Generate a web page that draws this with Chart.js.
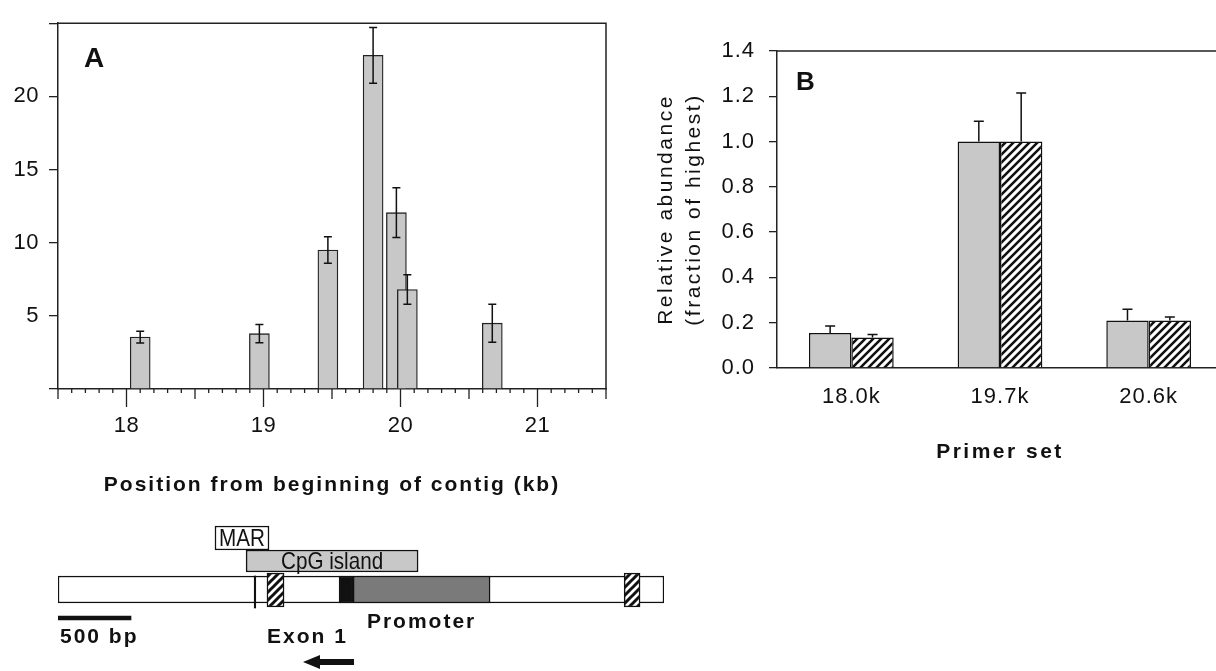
<!DOCTYPE html>
<html>
<head>
<meta charset="utf-8">
<script src="https://cdn.jsdelivr.net/npm/chart.js@4.4.0/dist/chart.umd.min.js"></script>
<style>
  html, body { margin: 0; padding: 0; background: #fff; width: 1216px; height: 671px; overflow: hidden; }
  canvas { position: absolute; }
  #chartA { left: 0; top: 0; }
  #chartB { left: 620px; top: 0; }
  #chartC { left: 0; top: 500px; }
</style>
</head>
<body>
<canvas id="chartA" width="620" height="500"></canvas>
<canvas id="chartB" width="620" height="480"></canvas>
<canvas id="chartC" width="700" height="171"></canvas>
<script>
// panel A - enrichment along the contig (kb)
var posA = [18.1, 18.97, 19.47, 19.8, 19.97, 20.05, 20.67];
var valA = [3.55, 3.78, 9.5, 22.8, 12.05, 6.8, 4.5];
var errA = [0.4, 0.62, 0.9, 1.9, 1.7, 1.0, 1.3];
var xTicksA = [18, 19, 20, 21];
var yTicksA = [0, 5, 10, 15, 20, 25];

// panel B - primer sets
var primers = ['18.0k', '19.7k', '20.6k'];
var grayB = [0.155, 1.0, 0.21];
var grayErrB = [0.03, 0.09, 0.05];
var hatchB = [0.135, 1.0, 0.21];
var hatchErrB = [0.013, 0.215, 0.015];
var yTicksB = [0, 0.2, 0.4, 0.6, 0.8, 1.0, 1.2, 1.4];

// gene map, bp from left end of the drawn region
var geneSpan = [0, 4150];
var exonSpans = [[1431, 1548], [3877, 3986]];
var marSpan = [1075, 1445];
var cpgSpan = [1288, 2466];
var promoterSpan = [2021, 2959];
var boxSpan = [1925, 2021];
var markSpan = [1344, 1354];
var scaleSpan = [0, 500];
var arrowSpan = [2027, 1678];

var FONT = '"Liberation Sans", Arial, sans-serif';
var INK = '#111';
var GRAY = '#c8c8c8';

function hatch(size, lw) {
  var c = document.createElement('canvas');
  c.width = c.height = size;
  var g = c.getContext('2d');
  g.fillStyle = '#fff';
  g.fillRect(0, 0, size, size);
  g.strokeStyle = '#111';
  g.lineWidth = lw;
  g.beginPath();
  g.moveTo(-1, size + 1); g.lineTo(size + 1, -1);
  g.moveTo(-2, 2); g.lineTo(2, -2);
  g.moveTo(size - 2, size + 2); g.lineTo(size + 2, size - 2);
  g.stroke();
  return g.createPattern(c, 'repeat');
}

// letter spacing: titles are drawn before datasets, tick labels (z:1) after
var spacing = {
  id: 'spacing',
  beforeDraw: function (chart, args, o) { chart.ctx.letterSpacing = o.titles || '0px'; },
  beforeDatasetsDraw: function (chart, args, o) { chart.ctx.letterSpacing = o.ticks || '0px'; }
};

var errorBars = {
  id: 'errorBars',
  afterDatasetsDraw: function (chart) {
    var ctx = chart.ctx, ys = chart.scales.y;
    chart.data.datasets.forEach(function (ds, di) {
      if (!ds.err) return;
      var meta = chart.getDatasetMeta(di);
      ctx.save();
      ctx.strokeStyle = '#111';
      ctx.lineWidth = 1.5;
      meta.data.forEach(function (bar, i) {
        var v = ds.data[i];
        if (typeof v === 'object') v = v.y;
        var hi = ys.getPixelForValue(v + ds.err[i]);
        var lo = ys.getPixelForValue(ds.errDown ? v - ds.err[i] : v);
        var w = ds.capWidth / 2;
        ctx.beginPath();
        ctx.moveTo(bar.x, lo); ctx.lineTo(bar.x, hi);
        ctx.moveTo(bar.x - w, hi); ctx.lineTo(bar.x + w, hi);
        if (ds.errDown) { ctx.moveTo(bar.x - w, lo); ctx.lineTo(bar.x + w, lo); }
        ctx.stroke();
      });
      ctx.restore();
    });
  }
};

// top/right frame and panel letter
var frame = {
  id: 'frame',
  afterDraw: function (chart, args, o) {
    var a = chart.chartArea, ctx = chart.ctx;
    ctx.save();
    ctx.strokeStyle = '#222';
    ctx.lineWidth = 1.5;
    ctx.beginPath();
    ctx.moveTo(a.left, a.top);
    ctx.lineTo(a.right, a.top);
    ctx.lineTo(a.right, a.bottom);
    ctx.stroke();
    ctx.letterSpacing = '0px';
    ctx.fillStyle = '#111';
    ctx.font = 'bold ' + o.size + 'px ' + FONT;
    ctx.fillText(o.letter, a.left + o.dx, a.top + o.dy);
    ctx.restore();
  }
};

// kb axis ticks: minor 0.1, medium at .5, long at whole kb
var kbTicks = {
  id: 'kbTicks',
  afterDraw: function (chart) {
    var xs = chart.scales.x, a = chart.chartArea, ctx = chart.ctx;
    ctx.save();
    ctx.strokeStyle = '#222';
    ctx.lineWidth = 1.3;
    ctx.beginPath();
    var n = Math.round((xs.max - xs.min) * 10);
    for (var k = 0; k <= n; k++) {
      var px = xs.getPixelForValue(xs.min + k / 10);
      var len = k % 10 === 5 ? 18 : (k % 5 === 0 ? 10 : 4);
      ctx.moveTo(px, a.bottom);
      ctx.lineTo(px, a.bottom + len);
    }
    ctx.stroke();
    ctx.restore();
  }
};

new Chart(document.getElementById('chartA'), {
  type: 'bar',
  data: {
    datasets: [{
      data: posA.map(function (p, i) { return { x: p, y: valA[i] }; }),
      err: errA,
      errDown: true,
      capWidth: 8,
      backgroundColor: GRAY,
      borderColor: '#222',
      borderWidth: 1.3,
      borderSkipped: 'start',
      barThickness: 20
    }]
  },
  options: {
    responsive: false,
    animation: false,
    layout: { padding: { left: 0, top: 13, right: 14, bottom: 0 } },
    plugins: {
      legend: { display: false },
      tooltip: { enabled: false },
      spacing: { titles: '2px', ticks: '0.5px' },
      frame: { letter: 'A', size: 28, dx: 26, dy: 44 }
    },
    scales: {
      x: {
        type: 'linear',
        min: 17.5,
        max: 21.5,
        offset: false,
        afterBuildTicks: function (s) { s.ticks = xTicksA.map(function (v) { return { value: v }; }); },
        afterFit: function (s) { s.height = 111; },
        grid: { display: false, drawTicks: false },
        border: { color: '#222', width: 1.5 },
        ticks: { z: 1, padding: 24, color: INK, font: { family: FONT, size: 22 }, maxRotation: 0 },
        title: {
          display: true,
          text: 'Position from beginning of contig (kb)',
          color: INK,
          font: { family: FONT, size: 21, weight: 'bold' },
          padding: { top: 0, bottom: 2.4 }
        }
      },
      y: {
        min: 0,
        max: 25,
        afterBuildTicks: function (s) { s.ticks = yTicksA.map(function (v) { return { value: v }; }); },
        afterFit: function (s) { s.width = 58; },
        grid: { drawOnChartArea: false, tickLength: 9, color: '#222', lineWidth: 1.3 },
        border: { color: '#222', width: 1.5 },
        ticks: {
          z: 1,
          padding: 10,
          color: INK,
          font: { family: FONT, size: 22 },
          callback: function (v) { return (v === 0 || v === 25) ? '' : v; }
        }
      }
    }
  },
  plugins: [spacing, errorBars, frame, kbTicks]
});

new Chart(document.getElementById('chartB'), {
  type: 'bar',
  data: {
    labels: primers,
    datasets: [{
      data: grayB,
      err: grayErrB,
      capWidth: 10,
      backgroundColor: GRAY,
      borderColor: '#111',
      borderWidth: 1.5
    }, {
      data: hatchB,
      err: hatchErrB,
      capWidth: 10,
      backgroundColor: hatch(8, 2.6),
      borderColor: '#111',
      borderWidth: 1.5
    }]
  },
  options: {
    responsive: false,
    animation: false,
    categoryPercentage: 0.57,
    barPercentage: 1.0,
    layout: { padding: { left: 0, top: 51, right: 17, bottom: 0 } },
    plugins: {
      legend: { display: false },
      tooltip: { enabled: false },
      spacing: { titles: '2.5px', ticks: '1px' },
      frame: { letter: 'B', size: 26, dx: 19, dy: 39 }
    },
    scales: {
      x: {
        afterFit: function (s) { s.height = 112; },
        grid: { display: false, drawTicks: false },
        border: { color: '#222', width: 1.5 },
        ticks: { z: 1, padding: 16, color: INK, font: { family: FONT, size: 22 }, maxRotation: 0 },
        title: {
          display: true,
          text: 'Primer set',
          color: INK,
          font: { family: FONT, size: 21, weight: 'bold' },
          padding: { top: 0, bottom: 15.4 }
        }
      },
      y: {
        min: 0,
        max: 1.4,
        afterBuildTicks: function (s) { s.ticks = yTicksB.map(function (v) { return { value: v }; }); },
        afterFit: function (s) { s.width = 157; },
        grid: { drawOnChartArea: false, tickLength: 8, color: '#222', lineWidth: 1.3 },
        border: { color: '#222', width: 1.5 },
        ticks: {
          z: 1,
          padding: 14,
          color: INK,
          font: { family: FONT, size: 22 },
          callback: function (v) { return v.toFixed(1); }
        },
        title: {
          display: true,
          text: ['Relative abundance', '(fraction of highest)'],
          color: INK,
          font: { family: FONT, size: 21, lineHeight: 1.35 },
          padding: { top: 31.8, bottom: 0 }
        }
      }
    }
  },
  plugins: [spacing, errorBars, frame]
});

// gene map: floating horizontal bars on a bp scale, y = track offset
var TRACK = { mar: 38, cpg: 61, gene: 89.5, exon: 90, mark: 92, scale: 118, promoterText: 122, lowerText: 137, arrow: 162 };

function span(s, track) { return [{ x: s, y: track }]; }

var mapLabels = {
  id: 'mapLabels',
  afterDraw: function (chart) {
    var xs = chart.scales.x, ys = chart.scales.y, ctx = chart.ctx;
    function mid(s) { return xs.getPixelForValue((s[0] + s[1]) / 2); }
    function narrow(text, x, y) {
      ctx.save();
      ctx.translate(x, y);
      ctx.scale(0.86, 1);
      ctx.fillText(text, 0, 0);
      ctx.restore();
    }
    ctx.save();
    ctx.fillStyle = '#111';
    ctx.textBaseline = 'middle';
    ctx.font = '24px ' + FONT;
    ctx.textAlign = 'center';
    narrow('MAR', mid(marSpan), ys.getPixelForValue(TRACK.mar) + 1);
    narrow('CpG island', mid(cpgSpan), ys.getPixelForValue(TRACK.cpg) + 1);
    ctx.font = 'bold 21px ' + FONT;
    ctx.letterSpacing = '2px';
    ctx.fillText('Promoter', mid(promoterSpan), ys.getPixelForValue(TRACK.promoterText));
    ctx.textAlign = 'left';
    ctx.fillText('500 bp', xs.getPixelForValue(scaleSpan[0]) + 2, ys.getPixelForValue(TRACK.lowerText));
    ctx.fillText('Exon 1', xs.getPixelForValue(exonSpans[0][0]), ys.getPixelForValue(TRACK.lowerText));
    // transcription direction arrow
    var x0 = xs.getPixelForValue(arrowSpan[0]), x1 = xs.getPixelForValue(arrowSpan[1]);
    var ay = ys.getPixelForValue(TRACK.arrow);
    ctx.fillRect(x1 + 16, ay - 3, x0 - x1 - 16, 6);
    ctx.beginPath();
    ctx.moveTo(x1, ay);
    ctx.lineTo(x1 + 17, ay - 7);
    ctx.lineTo(x1 + 17, ay + 7);
    ctx.closePath();
    ctx.fill();
    ctx.restore();
  }
};

var stripes = hatch(8, 3);
var mapBar = { grouped: false, borderSkipped: false, borderColor: '#111', borderWidth: 1.5 };

new Chart(document.getElementById('chartC'), {
  type: 'bar',
  data: {
    datasets: [
      Object.assign({}, mapBar, { data: span(markSpan, TRACK.mark), barThickness: 32, backgroundColor: '#111', borderWidth: 0 }),
      Object.assign({}, mapBar, { data: exonSpans.map(function (s) { return { x: s, y: TRACK.exon }; }), barThickness: 34, backgroundColor: stripes }),
      Object.assign({}, mapBar, { data: span(boxSpan, TRACK.gene), barThickness: 27, backgroundColor: '#111' }),
      Object.assign({}, mapBar, { data: span(promoterSpan, TRACK.gene), barThickness: 27, backgroundColor: '#7a7a7a' }),
      Object.assign({}, mapBar, { data: span(geneSpan, TRACK.gene), barThickness: 27, backgroundColor: '#fff' }),
      Object.assign({}, mapBar, { data: span(cpgSpan, TRACK.cpg), barThickness: 22, backgroundColor: GRAY }),
      Object.assign({}, mapBar, { data: span(marSpan, TRACK.mar), barThickness: 24, backgroundColor: '#fff' }),
      Object.assign({}, mapBar, { data: span(scaleSpan, TRACK.scale), barThickness: 4, backgroundColor: '#111', borderWidth: 0 })
    ]
  },
  options: {
    indexAxis: 'y',
    responsive: false,
    animation: false,
    layout: { padding: { left: 58, right: 36, top: 0, bottom: 0 } },
    plugins: { legend: { display: false }, tooltip: { enabled: false } },
    scales: {
      x: { type: 'linear', min: geneSpan[0], max: geneSpan[1], display: false, offset: false },
      y: { type: 'linear', min: 0, max: 171, reverse: true, display: false, offset: false }
    }
  },
  plugins: [mapLabels]
});
</script>
</body>
</html>
